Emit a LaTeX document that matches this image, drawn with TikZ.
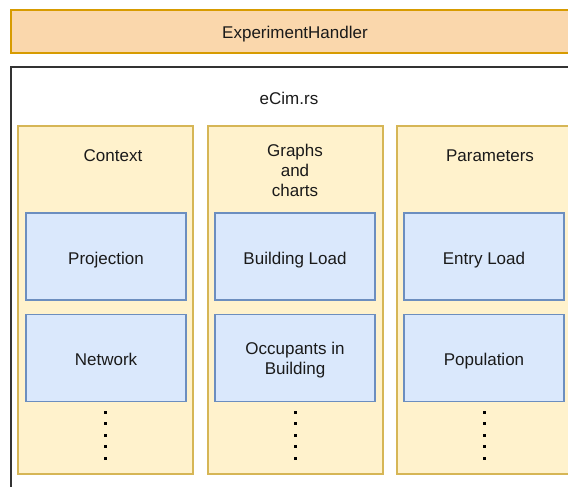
\documentclass[tikz,border=0pt]{standalone}
\usepackage{fontspec}
\setmainfont{Liberation Sans}

\definecolor{handlerfill}{HTML}{FAD7AC}
\definecolor{handlerline}{HTML}{D79B00}
\definecolor{groupfill}{HTML}{FFF2CC}
\definecolor{groupline}{HTML}{D6B656}
\definecolor{itemfill}{HTML}{DAE8FC}
\definecolor{itemline}{HTML}{6C8EBF}
\definecolor{labelgray}{HTML}{1A1A1A}

\tikzset{
  labeltext/.style={font=\fontsize{17}{20}\selectfont, text=labelgray, align=center, inner sep=0pt},
  oneline/.style={labeltext, text height=15pt, text depth=0pt},
  multiline/.style={labeltext, text depth=0pt},
  handlerbox/.style={oneline, draw=handlerline, fill=handlerfill, line width=1.5pt,
    minimum width=568pt, minimum height=43pt, outer sep=0pt},
  outerbox/.style={draw=black!80, line width=1.5pt, minimum width=568pt, minimum height=500pt,
    inner sep=0pt, outer sep=0pt},
  groupbox/.style={draw=groupline, fill=groupfill, line width=1.2pt, minimum width=175pt,
    minimum height=348pt, inner sep=0pt, outer sep=0pt},
  itembox/.style={draw=itemline, fill=itemfill, line width=1.2pt, minimum width=160pt,
    minimum height=87pt, outer sep=0pt}
}

\begin{document}
\begin{tikzpicture}[x=1pt,y=-1pt]
    \useasboundingbox (0,0) rectangle (568,487);
    \clip (0,0) rectangle (568,487);

    \node[handlerbox] (handler) at (295,31.5) {ExperimentHandler};

    \node[outerbox, anchor=north west] (ecim) at (11,67) {};
    \node[oneline] (ecimlabel) at (289,97) {eCim.rs};

    \foreach \n/\x in {context/18, graphs/208, params/397}
    \node[groupbox, anchor=north west] (\n) at (\x,126) {};

    \node[oneline] (contextlabel) at (113,153.5) {Context};
    \node[multiline] (graphslabel) at (295,170.5) {Graphs\\and\\charts};
    \node[oneline] (paramslabel) at (490,153.5) {Parameters};

    \node[itembox, oneline] (projection) at (106,256.5) {Projection};
    \node[itembox, oneline] (network) at (106,358) {Network};
    \node[itembox, oneline] (buildingload) at (295,256.5) {Building Load};
    \node[itembox, multiline] (occupants) at (295,358) {Occupants in\\Building};
    \node[itembox, oneline] (entryload) at (484,256.5) {Entry Load};
    \node[itembox, oneline] (population) at (484,358) {Population};

    % dots under each column
    \foreach \x in {105, 295, 484}
    \foreach \y in {412, 423.5, 435, 446.5, 458}
    \fill[black] (\x-1.5,\y-1.5) rectangle ++(3,3);
\end{tikzpicture}
\end{document}
